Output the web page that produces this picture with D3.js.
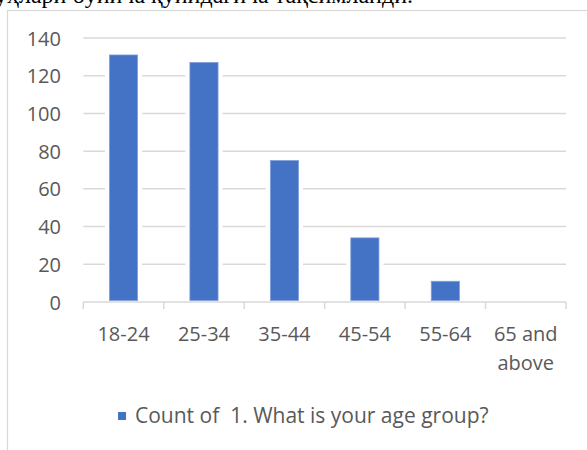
<!DOCTYPE html>
<html>
<head>
<meta charset="utf-8">
<script src="https://cdn.jsdelivr.net/npm/d3@7"></script>
<style>
  html, body { margin: 0; padding: 0; background: #fff; }
  svg { display: block; }
</style>
</head>
<body>
<svg id="chart" width="587" height="450"></svg>
<script>
// Age groups and respondent counts
const categories = ["18-24", "25-34", "35-44", "45-54", "55-64", "65 and above"];
const counts = [131, 127, 75, 34, 11, 0];
const yTicks = [0, 20, 40, 60, 80, 100, 120, 140];
const seriesName = "Count of  1. What is your age group?";
const headingText = "респондентлар ёш гуруҳлари бўйича қуйидагича тақсимланди.";

const W = 587, H = 450;
const font = "'Open Sans', 'Noto Sans', sans-serif";
const textColor = "#595959";
const gridColor = "#d9d9d9";
const barColor = "#4472c4";

const svg = d3.select("#chart");

// Body text line running above the chart frame
svg.append("text")
  .attr("x", 413).attr("y", 3)
  .attr("text-anchor", "end")
  .attr("font-family", "'Liberation Serif', 'DejaVu Serif', serif")
  .attr("font-size", 24)
  .attr("fill", "#000")
  .text(headingText);

// Chart frame
svg.append("rect")
  .attr("x", 7.5).attr("y", 10.5)
  .attr("width", W + 20).attr("height", H + 20)
  .attr("fill", "none")
  .attr("stroke", gridColor)
  .attr("stroke-width", 1.2);

const plot = { left: 83.3, right: 566, top: 38, bottom: 302 };

const x = d3.scaleBand()
  .domain(categories)
  .range([plot.left, plot.right])
  .paddingInner(0.65)
  .paddingOuter(0.325);

const xEdges = d3.scaleBand()
  .domain(categories)
  .range([plot.left, plot.right]);

const y = d3.scaleLinear()
  .domain([0, 140])
  .range([plot.bottom, plot.top]);

// Horizontal gridlines
svg.append("g")
  .selectAll("line")
  .data(yTicks.filter(t => t > 0))
  .join("line")
  .attr("x1", plot.left).attr("x2", plot.right)
  .attr("y1", d => y(d)).attr("y2", d => y(d))
  .attr("stroke", gridColor)
  .attr("stroke-width", 1.5);

// Y axis labels
const yAxis = d3.axisLeft(y).tickValues(yTicks).tickSize(0).tickPadding(0);
const gy = svg.append("g")
  .attr("transform", `translate(61,0)`)
  .call(yAxis);
gy.select(".domain").remove();
gy.selectAll("text")
  .attr("font-family", font)
  .attr("font-size", 20)
  .attr("fill", textColor)
  .attr("dy", "0.35em");

// White halo behind each bar so gridlines stop short of it
const gap = 4.5;
svg.append("g")
  .selectAll("rect")
  .data(categories.map((c, i) => ({ c, v: counts[i] })).filter(d => d.v > 0))
  .join("rect")
  .attr("x", d => x(d.c) - gap)
  .attr("width", x.bandwidth() + 2 * gap)
  .attr("y", d => y(d.v) - 1)
  .attr("height", d => plot.bottom - y(d.v))
  .attr("fill", "#fff");

// Bars
svg.append("g")
  .selectAll("rect")
  .data(categories.map((c, i) => ({ c, v: counts[i] })))
  .join("rect")
  .attr("x", d => x(d.c))
  .attr("width", x.bandwidth())
  .attr("y", d => y(d.v))
  .attr("height", d => Math.max(0, plot.bottom - 1.5 - y(d.v)))
  .attr("fill", barColor)
  .attr("stroke", d => d.v > 0 ? "#7f9fd9" : "none")
  .attr("stroke-width", 0.8);

// Category axis line with boundary ticks
const gx = svg.append("g");
gx.append("line")
  .attr("x1", plot.left).attr("x2", plot.right)
  .attr("y1", plot.bottom).attr("y2", plot.bottom)
  .attr("stroke", gridColor)
  .attr("stroke-width", 1.5);
const edges = categories.map(c => xEdges(c)).concat([plot.right]);
gx.selectAll("line.tick")
  .data(edges)
  .join("line")
  .attr("class", "tick")
  .attr("x1", d => d).attr("x2", d => d)
  .attr("y1", plot.bottom).attr("y2", plot.bottom + 7)
  .attr("stroke", gridColor)
  .attr("stroke-width", 1.5);

// Category labels, wrapped to the band width
const maxLabel = xEdges.bandwidth() - 8;
const labels = gx.selectAll("text.cat")
  .data(categories)
  .join("text")
  .attr("class", "cat")
  .attr("text-anchor", "middle")
  .attr("font-family", font)
  .attr("font-size", 20)
  .attr("fill", textColor)
  .attr("x", d => x(d) + x.bandwidth() / 2)
  .attr("y", 341);

labels.each(function(d) {
  const el = d3.select(this);
  const words = d.split(" ");
  const lines = [];
  let line = [];
  const probe = el.append("tspan");
  words.forEach(w => {
    const trial = line.concat([w]).join(" ");
    probe.text(trial);
    if (probe.node().getComputedTextLength() > maxLabel && line.length) {
      lines.push(line.join(" "));
      line = [w];
    } else {
      line.push(w);
    }
  });
  lines.push(line.join(" "));
  probe.remove();
  lines.forEach((t, i) => {
    el.append("tspan")
      .attr("x", x(d) + x.bandwidth() / 2)
      .attr("dy", i === 0 ? 0 : 29)
      .text(t);
  });
});

// Legend
const legend = svg.append("g");
legend.append("rect")
  .attr("x", 118).attr("y", 412)
  .attr("width", 8).attr("height", 8)
  .attr("fill", barColor);
legend.append("text")
  .attr("x", 135).attr("y", 422.5)
  .attr("font-family", font)
  .attr("font-size", 21)
  .attr("fill", textColor)
  .style("white-space", "pre")
  .text(seriesName);
</script>
</body>
</html>
